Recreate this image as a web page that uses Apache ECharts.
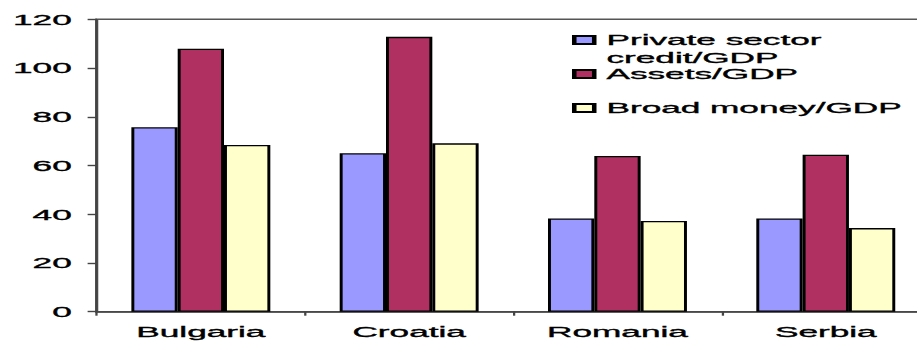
<!DOCTYPE html>
<html>
<head>
<meta charset="utf-8">
<script src="https://cdn.jsdelivr.net/npm/echarts@6/dist/echarts.min.js"></script>
<style>
  html, body { margin: 0; padding: 0; background: #fff; overflow: hidden; }
  /* The chart is laid out on a narrow canvas and widened horizontally,
     which gives the wide lettering and thick vertical strokes of the figure. */
  #stage { width: 917px; height: 341px; overflow: hidden; }
  #chart { width: 404px; height: 341px; transform: scaleX(2.2698); transform-origin: 0 0; }
</style>
</head>
<body>
<div id="stage"><div id="chart"></div></div>
<script>
// Financial depth indicators, percent of GDP
const categories = ['Bulgaria', 'Croatia', 'Romania', 'Serbia'];
const seriesNames = ['Private sector credit/GDP', 'Assets/GDP', 'Broad money/GDP'];
const privateCredit = [75.7, 65.0, 38.3, 38.3];
const assets = [107.9, 112.8, 63.9, 64.4];
const broadMoney = [68.4, 69.1, 37.2, 34.3];
const yTicks = { min: 0, max: 120, interval: 20 };

const colors = ['#9999FF', '#B03062', '#FFFFCC'];
const font = 'Liberation Sans, Arial, sans-serif';
const fontSize = 15.5;

// slight outline so the widened lettering keeps a solid weight
const inkText = { textBorderColor: '#000', textBorderWidth: 0.35 };

const chart = echarts.init(document.getElementById('chart'), null, { renderer: 'svg' });

const seriesValues = [privateCredit, assets, broadMoney];

const legendText = Object.assign({
  fontFamily: font,
  fontSize: fontSize,
  color: '#000',
  lineHeight: 18,
  padding: [0, 0, 0, 0.4]
}, inkText);

const legendBase = {
  orient: 'vertical',
  left: 252,
  padding: 0,
  itemWidth: 8.8,
  itemHeight: 8,
  icon: 'rect',
  selectedMode: false,
  textStyle: legendText
};

chart.setOption({
  animation: false,
  backgroundColor: '#fff',
  legend: [
    Object.assign({}, legendBase, {
      top: 13,
      data: [seriesNames[0]],
      // leading empty line keeps the first text line level with the swatch
      formatter: function () { return ' \nPrivate sector\ncredit/GDP'; }
    }),
    Object.assign({}, legendBase, { top: 65, data: [seriesNames[1]] }),
    Object.assign({}, legendBase, { top: 99, data: [seriesNames[2]] })
  ],
  grid: {
    left: 42.6,
    right: -5.7,
    top: 19.3,
    bottom: 29.3,
    show: true,
    borderColor: '#555',
    borderWidth: 1.4,
    outerBoundsMode: 'none'
  },
  xAxis: {
    type: 'category',
    data: categories,
    axisLine: { lineStyle: { color: '#444', width: 1.6 } },
    axisTick: { show: true, length: 4, lineStyle: { color: '#444', width: 1 } },
    axisLabel: Object.assign({ color: '#000', fontFamily: font, fontSize: fontSize, margin: 12 }, inkText),
    splitLine: { show: false }
  },
  yAxis: {
    type: 'value',
    min: yTicks.min,
    max: yTicks.max,
    interval: yTicks.interval,
    axisLine: { show: true, lineStyle: { color: '#444', width: 1 } },
    axisTick: { show: true, length: 4, lineStyle: { color: '#444', width: 1.4 } },
    axisLabel: Object.assign({ color: '#000', fontFamily: font, fontSize: fontSize, margin: 11 }, inkText),
    splitLine: { show: false }
  },
  series: seriesNames.map(function (name, i) {
    return {
      name: name,
      type: 'bar',
      data: seriesValues[i],
      barGap: '0%',
      barCategoryGap: '33.3%',
      itemStyle: { color: colors[i], borderColor: '#000', borderWidth: 1.3 }
    };
  })
});
</script>
</body>
</html>
